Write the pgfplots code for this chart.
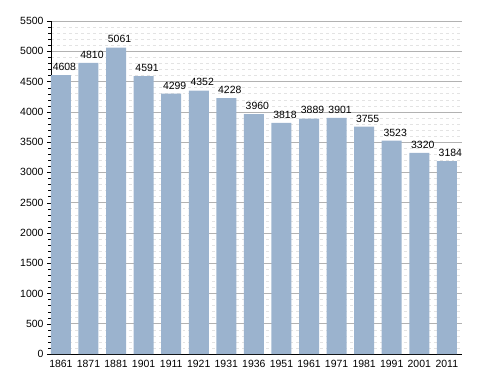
\documentclass[border=0pt]{standalone}
\usepackage{fontspec}
\setmainfont{Liberation Sans}
\usepackage{pgfplots}
\pgfplotsset{compat=1.18}
\definecolor{barblue}{RGB}{155,179,206}
\begin{document}
\begin{tikzpicture}
\path[use as bounding box] (0,0) rectangle (488bp,373bp);
\begin{axis}[
  at={(51bp,19bp)}, anchor=south west,
  scale only axis, width=411bp, height=333bp,
  ymin=0, ymax=5500,
  xmin=-0.36, xmax=14.55,
  ytick={0,500,...,5500},
  minor y tick num=4,
  xtick={0,...,14},
  xticklabels={1861,1871,1881,1901,1911,1921,1931,1936,1951,1961,1971,1981,1991,2001,2011},
  axis x line*=bottom, axis y line*=left,
  axis line style={black, line width=1pt},
  x axis line style={-}, y axis line style={-},
  ymajorgrids, yminorgrids,
  major grid style={gray!60, line width=0.5pt},
  minor grid style={gray!22, dashed, line width=0.4pt},
  tick style={black},
  xtick style={draw=none},
  ytick align=outside,
  major tick length=4bp, minor tick length=2.5bp,
  ticklabel style={font=\fontsize{10.5}{12}\selectfont},
  /pgf/number format/assume math mode=true,
  yticklabel style={/pgf/number format/1000 sep={}},
  xticklabel style={yshift=1bp},
  ybar, bar width=20bp, bar shift=0pt,
  nodes near coords,
  every node near coord/.append style={font=\fontsize{10.5}{12}\selectfont, black, /pgf/number format/1000 sep={}, yshift=1bp, xshift=3.5bp},
  clip=false,
]
\addplot[fill=barblue, draw=none] coordinates {
(0,4608) (1,4810) (2,5061) (3,4591) (4,4299) (5,4352) (6,4228) (7,3960)
(8,3818) (9,3889) (10,3901) (11,3755) (12,3523) (13,3320) (14,3184)};
\end{axis}
\end{tikzpicture}
\end{document}
